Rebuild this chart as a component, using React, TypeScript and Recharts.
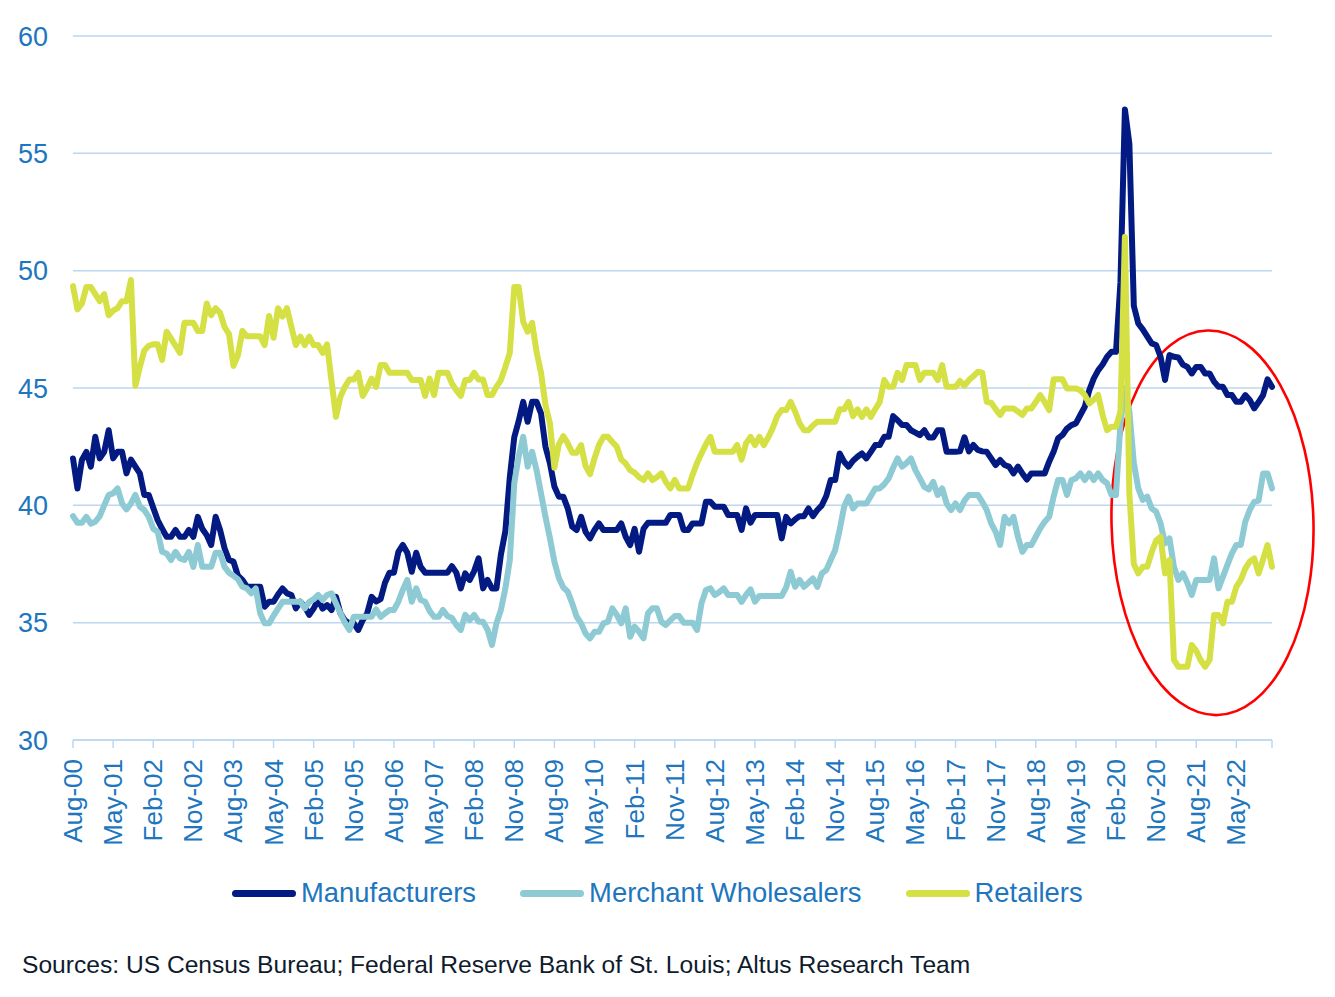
import React from 'react';
import { LineChart, Line, XAxis, YAxis, CartesianGrid, ReferenceArea } from 'recharts';

// Monthly inventory-to-sales style series, Aug-00 .. Jan-23 (270 months)
const START_YEAR = 2000;
const START_MONTH = 7; // August (0-based)
const MONTH_NAMES = ['Jan', 'Feb', 'Mar', 'Apr', 'May', 'Jun', 'Jul', 'Aug', 'Sep', 'Oct', 'Nov', 'Dec'];

const manufacturers = [
  42.0, 40.72, 41.93, 42.28, 41.65, 42.92, 42.0, 42.28, 43.2, 42.0,
  42.28, 42.28, 41.36, 41.95, 41.65, 41.36, 40.44, 40.44, 39.9, 39.37,
  39.0, 38.66, 38.66, 38.95, 38.66, 38.66, 38.95, 38.66, 39.51, 39.0,
  38.73, 38.31, 39.51, 38.95, 38.17, 37.67, 37.6, 37.0, 36.82, 36.53,
  36.53, 36.53, 36.53, 35.68, 35.89, 35.89, 36.2, 36.46, 36.25, 36.18,
  35.61, 35.89, 35.68, 35.33, 35.61, 35.97, 35.6, 35.75, 35.54, 36.1,
  35.4, 35.1, 34.97, 34.97, 34.69, 35.11, 35.4, 36.1, 35.9, 36.0,
  36.7, 37.13, 37.13, 38.02, 38.31, 37.98, 37.17, 37.98, 37.38, 37.13,
  37.13, 37.13, 37.13, 37.13, 37.13, 37.41, 37.13, 36.46, 37.1, 36.82,
  37.2, 37.74, 36.46, 36.82, 36.46, 36.46, 37.9, 38.9, 41.2, 42.9,
  43.6, 44.41, 43.56, 44.41, 44.41, 43.92, 42.5, 41.8, 40.8, 40.37,
  40.37, 39.87, 39.09, 38.95, 39.51, 38.87, 38.59, 38.95, 39.23, 38.95,
  38.95, 38.95, 38.95, 39.23, 38.66, 38.31, 39.0, 38.02, 39.0, 39.26,
  39.26, 39.26, 39.26, 39.26, 39.59, 39.59, 39.59, 38.95, 38.95, 39.23,
  39.23, 39.23, 40.15, 40.15, 39.94, 39.94, 39.94, 39.59, 39.59, 39.59,
  38.95, 39.87, 39.26, 39.59, 39.59, 39.59, 39.59, 39.59, 39.59, 38.59,
  39.51, 39.23, 39.4, 39.54, 39.54, 39.87, 39.54, 39.8, 40.0, 40.4,
  41.08, 41.08, 42.21, 41.86, 41.65, 41.9, 42.07, 42.21, 42.0, 42.28,
  42.57, 42.57, 42.92, 42.92, 43.8, 43.63, 43.42, 43.42, 43.2, 43.1,
  42.99, 43.2, 42.89, 42.89, 43.2, 43.2, 42.28, 42.28, 42.28, 42.3,
  42.9, 42.3, 42.57, 42.36, 42.3, 42.28, 42.0, 41.72, 41.93, 41.72,
  41.65, 41.36, 41.65, 41.36, 41.1, 41.36, 41.36, 41.36, 41.36, 41.86,
  42.28, 42.85, 43.0, 43.27, 43.42, 43.49, 43.85, 44.2, 44.9, 45.4,
  45.75, 46.0, 46.33, 46.54, 46.54, 49.5, 56.87, 55.4, 48.5, 47.75,
  47.5, 47.2, 46.9, 46.83, 46.33, 45.34, 46.4, 46.33, 46.3, 46.0,
  45.9, 45.62, 45.9, 45.9, 45.62, 45.62, 45.27, 45.05, 45.05, 44.7,
  44.7, 44.41, 44.41, 44.7, 44.49, 44.13, 44.4, 44.7, 45.37, 45.05,
];

const wholesalers = [
  39.54, 39.26, 39.26, 39.51, 39.22, 39.3, 39.54, 40.0, 40.44, 40.51,
  40.72, 40.08, 39.83, 40.08, 40.44, 39.94, 39.8, 39.51, 39.0, 38.87,
  38.02, 37.95, 37.67, 38.02, 37.74, 37.67, 38.02, 37.38, 38.31, 37.38,
  37.38, 37.38, 37.98, 37.98, 37.38, 37.13, 37.0, 36.85, 36.53, 36.46,
  36.25, 36.46, 35.4, 34.97, 34.97, 35.3, 35.6, 35.89, 35.89, 35.89,
  35.89, 35.89, 35.61, 35.89, 36.0, 36.18, 35.97, 36.18, 36.25, 35.82,
  35.4, 35.0, 34.69, 35.25, 35.25, 35.25, 35.25, 35.25, 35.57, 35.25,
  35.4, 35.54, 35.54, 35.9, 36.4, 36.82, 35.89, 36.46, 35.97, 35.89,
  35.5, 35.25, 35.25, 35.54, 35.28, 35.2, 34.9, 34.69, 35.33, 35.11,
  35.33, 35.04, 35.04, 34.7, 34.05, 34.97, 35.54, 36.46, 37.67, 40.94,
  42.1, 42.92, 41.65, 42.28, 41.5, 40.51, 39.51, 38.6, 37.6, 36.9,
  36.5, 36.32, 35.82, 35.25, 34.97, 34.54, 34.33, 34.61, 34.61, 34.97,
  35.04, 35.61, 35.33, 34.97, 35.61, 34.4, 34.83, 34.61, 34.33, 35.4,
  35.61, 35.61, 35.04, 34.9, 35.1, 35.28, 35.28, 35.0, 35.0, 35.0,
  34.69, 35.82, 36.39, 36.46, 36.18, 36.3, 36.46, 36.18, 36.18, 36.18,
  35.89, 36.18, 36.42, 35.89, 36.14, 36.14, 36.14, 36.14, 36.14, 36.14,
  36.5, 37.17, 36.53, 36.82, 36.53, 36.7, 36.88, 36.53, 37.1, 37.24,
  37.67, 38.1, 38.95, 39.94, 40.37, 39.87, 40.08, 40.08, 40.08, 40.4,
  40.72, 40.72, 40.9, 41.15, 41.6, 42.0, 41.65, 41.8, 42.0, 41.5,
  41.15, 40.79, 40.68, 41.0, 40.44, 40.72, 40.08, 39.8, 40.08, 39.8,
  40.2, 40.44, 40.44, 40.44, 40.15, 39.8, 39.23, 38.87, 38.31, 39.51,
  39.23, 39.51, 38.66, 38.02, 38.31, 38.31, 38.66, 39.02, 39.3, 39.51,
  40.37, 41.08, 41.08, 40.44, 41.08, 41.15, 41.36, 41.08, 41.36, 41.08,
  41.36, 41.08, 40.94, 40.44, 40.44, 43.5, 45.0, 44.0, 41.8, 40.72,
  40.23, 40.37, 39.87, 39.73, 39.23, 38.38, 38.59, 37.38, 36.82, 37.1,
  36.7, 36.18, 36.82, 36.82, 36.82, 36.82, 37.74, 36.46, 36.96, 37.46,
  37.95, 38.31, 38.31, 39.3, 39.8, 40.15, 40.2, 41.36, 41.36, 40.72,
];

const retailers = [
  49.34, 48.35, 48.6, 49.3, 49.3, 49.0, 48.7, 49.0, 48.1, 48.3,
  48.4, 48.7, 48.7, 49.6, 45.1, 45.9, 46.6, 46.8, 46.86, 46.86,
  46.2, 47.4, 47.1, 46.8, 46.5, 47.78, 47.78, 47.78, 47.43, 47.43,
  48.6, 48.1, 48.4, 48.2, 47.6, 47.3, 45.94, 46.4, 47.43, 47.2,
  47.2, 47.2, 47.2, 46.83, 48.07, 47.14, 48.4, 48.04, 48.4, 47.6,
  46.83, 47.19, 46.83, 47.19, 46.83, 46.83, 46.5, 46.86, 45.3, 43.77,
  44.63, 45.05, 45.36, 45.36, 45.65, 44.66, 45.0, 45.4, 45.05, 45.98,
  45.98, 45.65, 45.65, 45.65, 45.65, 45.65, 45.34, 45.34, 45.34, 44.66,
  45.4, 44.7, 45.65, 45.65, 45.65, 45.2, 44.9, 44.66, 45.34, 45.34,
  45.65, 45.36, 45.36, 44.7, 44.7, 45.05, 45.34, 45.9, 46.5, 49.3,
  49.3, 47.82, 47.4, 47.78, 46.54, 45.65, 44.27, 43.5, 41.6, 42.6,
  42.95, 42.64, 42.24, 42.24, 42.57, 41.67, 41.33, 42.0, 42.57, 42.92,
  42.92, 42.7, 42.5, 41.95, 41.78, 41.5, 41.39, 41.2, 41.08, 41.36,
  41.08, 41.2, 41.36, 41.0, 40.72, 41.08, 40.72, 40.72, 40.72, 41.3,
  41.8, 42.21, 42.6, 42.92, 42.28, 42.28, 42.28, 42.28, 42.28, 42.57,
  41.95, 42.64, 42.92, 42.57, 42.92, 42.57, 42.9, 43.3, 43.8, 44.06,
  44.06, 44.41, 44.0, 43.5, 43.2, 43.2, 43.4, 43.56, 43.56, 43.56,
  43.56, 43.56, 44.09, 44.09, 44.41, 43.8, 44.09, 43.77, 44.09, 43.77,
  44.1, 44.41, 45.34, 45.05, 45.05, 45.65, 45.34, 45.98, 45.98, 45.98,
  45.34, 45.65, 45.65, 45.65, 45.34, 45.98, 45.05, 45.05, 45.05, 45.3,
  45.1, 45.34, 45.5, 45.69, 45.65, 44.41, 44.37, 44.1, 43.85, 44.13,
  44.13, 44.13, 44.0, 43.85, 44.13, 44.13, 44.4, 44.7, 44.4, 44.06,
  45.37, 45.37, 45.37, 44.98, 44.98, 44.98, 44.9, 44.7, 44.34, 44.5,
  44.7, 43.85, 43.2, 43.35, 43.35, 44.0, 51.44, 40.5, 37.5, 37.1,
  37.38, 37.38, 38.0, 38.5, 38.66, 37.1, 37.67, 33.41, 33.12, 33.12,
  33.12, 34.05, 33.8, 33.4, 33.12, 33.41, 35.33, 35.33, 34.97, 35.89,
  35.89, 36.53, 36.82, 37.3, 37.6, 37.74, 37.1, 37.7, 38.31, 37.38,
];

const tickLabels = [
  'Aug-00', 'May-01', 'Feb-02', 'Nov-02', 'Aug-03', 'May-04', 'Feb-05', 'Nov-05',
  'Aug-06', 'May-07', 'Feb-08', 'Nov-08', 'Aug-09', 'May-10', 'Feb-11', 'Nov-11',
  'Aug-12', 'May-13', 'Feb-14', 'Nov-14', 'Aug-15', 'May-16', 'Feb-17', 'Nov-17',
  'Aug-18', 'May-19', 'Feb-20', 'Nov-20', 'Aug-21', 'May-22',
];

const yTicks = [30, 35, 40, 45, 50, 55, 60];

const seriesInfo = [
  { key: 'manufacturers', name: 'Manufacturers', color: '#021A82' },
  { key: 'wholesalers', name: 'Merchant Wholesalers', color: '#8ECAD3' },
  { key: 'retailers', name: 'Retailers', color: '#D5E044' },
];

// Annotation ellipse, expressed in data units (month index, value)
const highlight = { x1: 233.0, x2: 278.3, y1: 31.06, y2: 47.45, rotate: -1.5 };

const sourceText = 'Sources: US Census Bureau; Federal Reserve Bank of St. Louis; Altus Research Team';

const months = manufacturers.map((_, i) => {
  const m = (START_MONTH + i) % 12;
  const y = START_YEAR + Math.floor((START_MONTH + i) / 12);
  return `${MONTH_NAMES[m]}-${String(y % 100).padStart(2, '0')}`;
});

const data = months.map((month, i) => ({
  i,
  month,
  manufacturers: manufacturers[i],
  wholesalers: wholesalers[i],
  retailers: retailers[i],
}));

const lastIndex = months.length - 1;
const xTicks = [...tickLabels.map((l) => months.indexOf(l)), lastIndex];
const labelByIndex: Record<number, string> = {};
tickLabels.forEach((l) => {
  labelByIndex[months.indexOf(l)] = l;
});

const FONT = '"Liberation Sans", Arial, sans-serif';
const BLUE_TEXT = '#2076BE';
const GRID = '#BDD7EE';

const XTick = (props: any) => {
  const { x, y, payload } = props;
  const label = labelByIndex[payload.value] ?? '';
  return (
    <text
      x={x}
      y={y}
      transform={`rotate(-90 ${x} ${y})`}
      textAnchor="end"
      dominantBaseline="central"
      fill={BLUE_TEXT}
      fontSize={26}
      fontFamily={FONT}
    >
      {label}
    </text>
  );
};

const EllipseShape = (props: any) => {
  const { x, y, width, height } = props;
  const cx = x + width / 2;
  const cy = y + height / 2;
  return (
    <ellipse
      cx={cx}
      cy={cy}
      rx={Math.abs(width) / 2}
      ry={Math.abs(height) / 2}
      fill="none"
      stroke="#FF0000"
      strokeWidth={2.6}
      transform={`rotate(${highlight.rotate} ${cx} ${cy})`}
    />
  );
};

export default function App() {
  return (
    <div
      style={{
        position: 'absolute',
        left: 0,
        top: 0,
        width: 1335,
        height: 997,
        background: '#ffffff',
        overflow: 'hidden',
      }}
    >
      <LineChart
        width={1335}
        height={860}
        data={data}
        margin={{ top: 36, right: 63, left: 13, bottom: 5 }}
      >
        <CartesianGrid vertical={false} stroke={GRID} strokeWidth={1.5} />
        <XAxis
          dataKey="i"
          type="number"
          domain={[0, lastIndex]}
          ticks={xTicks}
          interval={0}
          allowDecimals={false}
          height={115}
          axisLine={{ stroke: GRID, strokeWidth: 1.5 }}
          tickLine={{ stroke: GRID, strokeWidth: 1.5 }}
          tickSize={8}
          tickMargin={11}
          tick={<XTick />}
        />
        <YAxis
          type="number"
          domain={[30, 60]}
          ticks={yTicks}
          interval={0}
          width={60}
          axisLine={false}
          tickLine={false}
          tickSize={0}
          tickMargin={25}
          tick={{ fill: BLUE_TEXT, fontSize: 27, fontFamily: FONT }}
        />
        {seriesInfo.map((s) => (
          <Line
            key={s.key}
            type="linear"
            dataKey={s.key}
            name={s.name}
            stroke={s.color}
            strokeWidth={6}
            strokeLinejoin="round"
            strokeLinecap="round"
            dot={false}
            activeDot={false}
            isAnimationActive={false}
          />
        ))}
        <ReferenceArea
          x1={highlight.x1}
          x2={highlight.x2}
          y1={highlight.y1}
          y2={highlight.y2}
          ifOverflow="visible"
          shape={<EllipseShape />}
        />
      </LineChart>
      <div
        style={{
          position: 'absolute',
          left: 232,
          top: 877,
          display: 'flex',
          alignItems: 'center',
          fontFamily: FONT,
          fontSize: 27.4,
          lineHeight: '32px',
          color: BLUE_TEXT,
          whiteSpace: 'nowrap',
        }}
      >
        {seriesInfo.map((s) => (
          <div key={s.key} style={{ display: 'flex', alignItems: 'center', marginRight: 44 }}>
            <span
              style={{
                display: 'inline-block',
                width: 64,
                height: 7,
                borderRadius: 4,
                background: s.color,
                marginRight: 5,
              }}
            />
            <span>{s.name}</span>
          </div>
        ))}
      </div>
      <div
        style={{
          position: 'absolute',
          left: 22,
          top: 950,
          fontFamily: FONT,
          fontSize: 24.6,
          lineHeight: '30px',
          color: '#0E1B2C',
          whiteSpace: 'nowrap',
        }}
      >
        {sourceText}
      </div>
    </div>
  );
}
